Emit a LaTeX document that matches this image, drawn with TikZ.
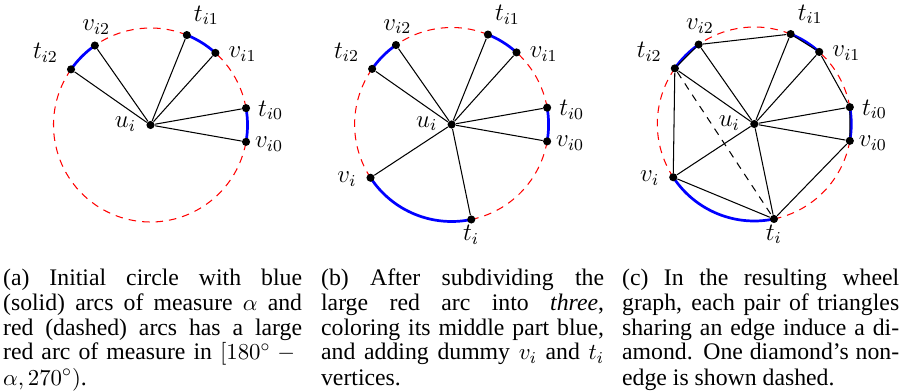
\documentclass[tikz,border=0pt]{standalone}
\usepackage{fontspec}
\setmainfont{Liberation Serif}
\tikzset{
  dot/.style={circle,fill=black,inner sep=0pt,minimum size=3.9pt},
  edge/.style={black,line width=0.5pt},
  nonedge/.style={black,line width=0.5pt,dash pattern=on 3.5pt off 3pt},
  bluearc/.style={blue,line width=1.3pt},
  redarc/.style={red,line width=0.5pt,dash pattern=on 3.6pt off 2.9pt},
  lbl/.style={inner sep=0pt,font=\fontsize{12}{14}\selectfont},
  capt/.style={inner sep=0pt,anchor=base west,align=justify,font=\fontsize{11.4}{12}\selectfont},
}
\newcommand{\mkpoints}[1]{%
  \coordinate (#1u) at (0,0);
  \coordinate (#1pv0) at (-10:97);
  \coordinate (#1pt0) at (10:97);
  \coordinate (#1pv1) at (48:97);
  \coordinate (#1pt1) at (68:97);
  \coordinate (#1pv2) at (125:97);
  \coordinate (#1pt2) at (145:97);
  \coordinate (#1pv) at (213.3:97);
  \coordinate (#1pt) at (281.7:97);
}
\newcommand{\mkdots}[1]{%
  \node[dot] (#1U) at (#1u) {};
  \node[dot] (#1V0) at (#1pv0) {};
  \node[dot] (#1T0) at (#1pt0) {};
  \node[dot] (#1V1) at (#1pv1) {};
  \node[dot] (#1T1) at (#1pt1) {};
  \node[dot] (#1V2) at (#1pv2) {};
  \node[dot] (#1T2) at (#1pt2) {};
  \node[lbl] (#1lu) at (-25,1) {$u_i$};
  \node[lbl] (#1lv0) at (-9:120) {$v_{i0}$};
  \node[lbl] (#1lt0) at (7:121) {$t_{i0}$};
  \node[lbl] (#1lv1) at (37.5:116) {$v_{i1}$};
  \node[lbl] (#1lt1) at (63:123) {$t_{i1}$};
  \node[lbl] (#1lv2) at (119:112) {$v_{i2}$};
  \node[lbl] (#1lt2) at (145.5:127.5) {$t_{i2}$};
  \foreach \n in {V0,T0,V1,T1,V2,T2} \draw[edge] (#1U) -- (#1\n);
}
\newcommand{\mkextra}[1]{%
  \node[dot] (#1V) at (#1pv) {};
  \node[dot] (#1T) at (#1pt) {};
  \node[lbl] (#1lv) at (207.5:118) {$v_i$};
  \node[lbl] (#1lt) at (280:112) {$t_i$};
  \draw[edge] (#1U) -- (#1V);
  \draw[edge] (#1U) -- (#1T);
}
\begin{document}
\begin{tikzpicture}[x=0.48pt,y=0.48pt]
\useasboundingbox (0,0) rectangle (907,390);

% ---------- panel (a)
\begin{scope}[shift={(150.5,265)}]
  \mkpoints{a}
  \draw[redarc] (apt0) arc[start angle=10,end angle=48,radius=97];
  \draw[redarc] (apt1) arc[start angle=68,end angle=125,radius=97];
  \draw[redarc] (apt2) arc[start angle=145,end angle=350,radius=97];
  \draw[bluearc] (apv0) arc[start angle=-10,end angle=10,radius=97];
  \draw[bluearc] (apv1) arc[start angle=48,end angle=68,radius=97];
  \draw[bluearc] (apv2) arc[start angle=125,end angle=145,radius=97];
  \mkdots{a}
\end{scope}

% ---------- panel (b)
\begin{scope}[shift={(451.6,265.5)}]
  \mkpoints{b}
  \draw[redarc] (bpt0) arc[start angle=10,end angle=48,radius=97];
  \draw[redarc] (bpt1) arc[start angle=68,end angle=125,radius=97];
  \draw[redarc] (bpt2) arc[start angle=145,end angle=213.3,radius=97];
  \draw[redarc] (bpt) arc[start angle=281.7,end angle=350,radius=97];
  \draw[bluearc] (bpv0) arc[start angle=-10,end angle=10,radius=97];
  \draw[bluearc] (bpv1) arc[start angle=48,end angle=68,radius=97];
  \draw[bluearc] (bpv2) arc[start angle=125,end angle=145,radius=97];
  \draw[bluearc] (bpv) arc[start angle=213.3,end angle=281.7,radius=97];
  \mkdots{b}
  \mkextra{b}
\end{scope}

% ---------- panel (c)
\begin{scope}[shift={(754.3,266)}]
  \mkpoints{c}
  \draw[redarc] (cpt0) arc[start angle=10,end angle=48,radius=97];
  \draw[redarc] (cpt1) arc[start angle=68,end angle=125,radius=97];
  \draw[redarc] (cpt2) arc[start angle=145,end angle=213.3,radius=97];
  \draw[redarc] (cpt) arc[start angle=281.7,end angle=350,radius=97];
  \draw[bluearc] (cpv0) arc[start angle=-10,end angle=10,radius=97];
  \draw[bluearc] (cpv1) arc[start angle=48,end angle=68,radius=97];
  \draw[bluearc] (cpv2) arc[start angle=125,end angle=145,radius=97];
  \draw[bluearc] (cpv) arc[start angle=213.3,end angle=281.7,radius=97];
  \mkdots{c}
  \mkextra{c}
  \draw[edge] (cT2) -- (cV2) -- (cT1) -- (cV1) -- (cT0) -- (cV0) -- (cT) -- (cV) -- (cT2);
  \draw[nonedge] (cT2) -- (cT);
\end{scope}

% ---------- captions
\node[capt,text width=143.5pt] (capa) at (2.7,105) {(a) Initial circle with blue\linebreak
(solid) arcs of measure $\alpha$ and\linebreak
red (dashed) arcs has a large\linebreak
red arc of measure in $[180^\circ -{}$\linebreak
$\alpha, 270^\circ)$.};
\node[capt,text width=135.8pt] (capb) at (320.7,105) {(b) After subdividing the\linebreak
large red arc into \emph{three},\linebreak
coloring its middle part blue,\linebreak
and adding dummy $v_i$ and $t_i$\linebreak
vertices.};
\node[capt,text width=133pt] (capc) at (621.7,105) {(c) In the resulting wheel\linebreak
graph, each pair of triangles\linebreak
sharing an edge induce a di-\linebreak
amond. One diamond's non-\linebreak
edge is shown dashed.};
\end{tikzpicture}
\end{document}
